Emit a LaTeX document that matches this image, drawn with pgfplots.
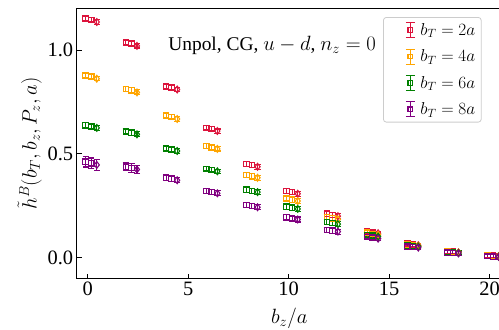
\documentclass[border=0pt]{standalone}
\usepackage{pgfplots}
\usepackage{pgfplotstable}
\pgfplotsset{compat=1.18}
\usepackage{fontspec}
\setmainfont{Liberation Serif}
\definecolor{cred}{RGB}{220,20,60}
\definecolor{corange}{RGB}{255,165,0}
\definecolor{cgreen}{RGB}{0,128,0}
\definecolor{cpurple}{RGB}{128,0,128}

\pgfplotstableread{
x a b c e
0 1.152 1.145 1.135 0.010
2 1.035 1.030 1.020 0.010
4 0.825 0.820 0.810 0.010
6 0.625 0.620 0.610 0.010
8 0.452 0.446 0.438 0.012
10 0.322 0.316 0.308 0.012
12 0.212 0.206 0.200 0.012
14 0.128 0.122 0.118 0.010
16 0.068 0.064 0.060 0.010
18 0.032 0.029 0.026 0.010
20 0.012 0.010 0.008 0.010
}\tred
\pgfplotstableread{
x a b c e
0 0.878 0.872 0.862 0.010
2 0.812 0.806 0.796 0.012
4 0.684 0.678 0.668 0.010
6 0.538 0.532 0.524 0.010
8 0.398 0.392 0.385 0.012
10 0.285 0.280 0.273 0.012
12 0.196 0.190 0.185 0.012
14 0.120 0.115 0.111 0.010
16 0.064 0.060 0.057 0.010
18 0.030 0.027 0.025 0.010
20 0.010 0.008 0.007 0.010
}\torange
\pgfplotstableread{
x a b c e
0 0.638 0.632 0.625 0.012
2 0.608 0.602 0.594 0.012
4 0.527 0.521 0.514 0.010
6 0.428 0.423 0.416 0.010
8 0.328 0.322 0.316 0.012
10 0.246 0.241 0.235 0.012
12 0.172 0.167 0.162 0.012
14 0.110 0.106 0.102 0.010
16 0.060 0.057 0.054 0.010
18 0.028 0.025 0.023 0.010
20 0.009 0.007 0.005 0.010
}\tgreen
\pgfplotstableread{
x a b c e
0 0.462 0.455 0.447 0.025
2 0.438 0.432 0.425 0.020
4 0.385 0.380 0.373 0.012
6 0.322 0.317 0.310 0.012
8 0.254 0.249 0.243 0.012
10 0.194 0.189 0.184 0.012
12 0.134 0.130 0.126 0.012
14 0.100 0.096 0.092 0.010
16 0.055 0.052 0.049 0.010
18 0.026 0.023 0.021 0.010
20 0.008 0.006 0.004 0.010
}\tpurple

\pgfplotsset{
  ebopts/.style={
    error bars/y dir=both, error bars/y explicit,
    error bars/error bar style={line width=1.1pt},
    error bars/error mark options={rotate=90, mark size=3.2pt, line width=1.1pt}},
  sq/.style={only marks, mark=square, mark size=2.8pt, line width=1.1pt,
    mark options={solid, fill=white}, ebopts},
  dm/.style={only marks, mark=diamond, mark size=3.4pt, line width=1.1pt,
    mark options={solid, fill=white}, ebopts},
  ebleg/.style={legend image code/.code={
    \path[draw=none] (0bp,0bp) -- (31bp,0bp);
    \draw[line width=1.1pt,##1] (23bp,-7.5bp) -- (23bp,7.5bp);
    \draw[line width=1.1pt,##1] (18.5bp,-7.5bp) -- (27.5bp,-7.5bp);
    \draw[line width=1.1pt,##1] (18.5bp,7.5bp) -- (27.5bp,7.5bp);
    \draw[##1, mark size=2.4pt] plot[only marks] coordinates {(23bp,0bp)};
  }},
}

\begin{document}
\begin{tikzpicture}
\begin{axis}[
  scale only axis,
  width=425bp, height=270bp,
  xmin=-0.55, xmax=20.6,
  ymin=-0.1, ymax=1.2,
  xtick={0,5,10,15,20},
  ytick={0,0.5,1.0},
  yticklabel style={/pgf/number format/fixed, /pgf/number format/fixed zerofill, /pgf/number format/precision=1},
  /pgf/number format/assume math mode=true,
  tick label style={font=\fontsize{20.5}{24}\selectfont},
  xtick pos=left, ytick pos=left,
  tick align=inside,
  major tick length=5bp,
  axis line style={line width=0.9pt},
  every tick/.style={line width=0.9pt, black},
  xlabel={$b_z/a$},
  ylabel={$\tilde{h}^B(b_T,b_z,P_z,a)$},
  label style={font=\fontsize{20.5}{24}\selectfont},
  xlabel style={yshift=-5bp},
  ylabel style={yshift=-1bp},
  legend style={at={(0.7207,0.9685)}, anchor=north west,
    draw=black!20, rounded corners=3pt, line width=0.8pt,
    font=\fontsize{17.5}{20}\selectfont,
    row sep=9bp, inner xsep=4bp, inner ysep=4bp},
  legend cell align=left,
  ebleg,
]
% red
\addplot[sq, color=cred] table[x expr=\thisrow{x}-0.1, y=a, y error=e] {\tred};
\addlegendentry{$b_T=2a$}
\addplot[sq, color=cred, forget plot] table[x expr=\thisrow{x}+0.17, y=b, y error=e] {\tred};
\addplot[dm, color=cred, forget plot] table[x expr=\thisrow{x}+0.45, y=c, y error=e] {\tred};
% orange
\addplot[sq, color=corange] table[x expr=\thisrow{x}-0.1, y=a, y error=e] {\torange};
\addlegendentry{$b_T=4a$}
\addplot[sq, color=corange, forget plot] table[x expr=\thisrow{x}+0.17, y=b, y error=e] {\torange};
\addplot[dm, color=corange, forget plot] table[x expr=\thisrow{x}+0.45, y=c, y error=e] {\torange};
% green
\addplot[sq, color=cgreen] table[x expr=\thisrow{x}-0.1, y=a, y error=e] {\tgreen};
\addlegendentry{$b_T=6a$}
\addplot[sq, color=cgreen, forget plot] table[x expr=\thisrow{x}+0.17, y=b, y error=e] {\tgreen};
\addplot[dm, color=cgreen, forget plot] table[x expr=\thisrow{x}+0.45, y=c, y error=e] {\tgreen};
% purple
\addplot[sq, color=cpurple] table[x expr=\thisrow{x}-0.1, y=a, y error=e] {\tpurple};
\addlegendentry{$b_T=8a$}
\addplot[sq, color=cpurple, forget plot] table[x expr=\thisrow{x}+0.17, y=b, y error=e] {\tpurple};
\addplot[dm, color=cpurple, forget plot] table[x expr=\thisrow{x}+0.45, y=c, y error=e] {\tpurple};

\node[anchor=west, font=\fontsize{19.5}{22}\selectfont, inner sep=0pt] at (axis cs:4.0,1.024) {Unpol, CG, $u-d$, $n_z=0$};
\end{axis}
\pgfresetboundingbox
\path ([shift={(-76.7bp,-51.5bp)}]current axis.south west) rectangle ([shift={(422.3bp,8.5bp)}]current axis.north west);
\end{tikzpicture}
\end{document}
